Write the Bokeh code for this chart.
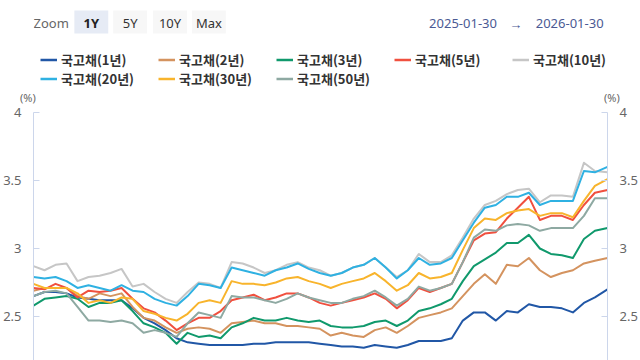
import pandas as pd
from datetime import datetime
from bokeh.plotting import figure
from bokeh.layouts import column
from bokeh.models import (Range1d, LinearAxis, FixedTicker, Legend, LegendItem, Label,
                          BoxAnnotation, CustomJSTickFormatter, Div)
from bokeh.embed import file_html
from bokeh.resources import INLINE

# weekly observations, 2025-01-30 .. 2026-01-30
dates = list(pd.date_range("2025-01-30", periods=52, freq="7D")) + [pd.Timestamp("2026-01-30")]

y1 = [2.65, 2.68, 2.68, 2.67, 2.64, 2.63, 2.62, 2.62, 2.62, 2.56, 2.49, 2.45, 2.40, 2.34, 2.31, 2.30, 2.29, 2.29,
      2.29, 2.29, 2.30, 2.30, 2.31, 2.31, 2.31, 2.31, 2.30, 2.29, 2.28, 2.28, 2.27, 2.29, 2.28, 2.27, 2.29,
      2.32, 2.32, 2.32, 2.34, 2.47, 2.53, 2.53, 2.47, 2.54, 2.53, 2.59, 2.57, 2.57, 2.56, 2.53, 2.60, 2.64, 2.70]
y2 = [2.69, 2.71, 2.71, 2.71, 2.65, 2.63, 2.67, 2.65, 2.67, 2.57, 2.49, 2.47, 2.42, 2.38, 2.41, 2.42, 2.41, 2.38,
      2.45, 2.46, 2.47, 2.45, 2.45, 2.43, 2.43, 2.42, 2.41, 2.36, 2.38, 2.36, 2.35, 2.40, 2.42, 2.38, 2.43,
      2.49, 2.51, 2.53, 2.56, 2.65, 2.74, 2.81, 2.74, 2.88, 2.87, 2.93, 2.84, 2.79, 2.82, 2.84, 2.89, 2.91, 2.93]
y3 = [2.58, 2.63, 2.64, 2.65, 2.63, 2.57, 2.60, 2.60, 2.62, 2.54, 2.45, 2.42, 2.38, 2.30, 2.38, 2.35, 2.36, 2.34,
      2.42, 2.45, 2.49, 2.47, 2.47, 2.49, 2.47, 2.46, 2.47, 2.43, 2.42, 2.42, 2.43, 2.46, 2.47, 2.43, 2.47,
      2.54, 2.56, 2.59, 2.63, 2.76, 2.87, 2.92, 2.97, 3.04, 3.04, 3.10, 3.00, 2.96, 2.95, 2.93, 3.07, 3.13, 3.15]
y5 = [2.71, 2.70, 2.74, 2.71, 2.64, 2.69, 2.68, 2.69, 2.71, 2.63, 2.56, 2.53, 2.47, 2.40, 2.45, 2.49, 2.49, 2.54,
      2.62, 2.64, 2.66, 2.62, 2.64, 2.67, 2.67, 2.64, 2.60, 2.58, 2.60, 2.62, 2.64, 2.67, 2.63, 2.56, 2.62,
      2.71, 2.68, 2.71, 2.74, 2.90, 3.06, 3.11, 3.12, 3.22, 3.30, 3.38, 3.21, 3.24, 3.24, 3.21, 3.32, 3.41, 3.43]
y10 = [2.87, 2.84, 2.88, 2.89, 2.76, 2.79, 2.80, 2.82, 2.85, 2.72, 2.74, 2.68, 2.63, 2.60, 2.68, 2.75, 2.74, 2.71,
       2.90, 2.89, 2.86, 2.82, 2.84, 2.88, 2.90, 2.86, 2.84, 2.80, 2.82, 2.86, 2.88, 2.93, 2.86, 2.79, 2.84,
       2.96, 2.90, 2.90, 2.95, 3.08, 3.22, 3.32, 3.35, 3.40, 3.43, 3.44, 3.34, 3.39, 3.39, 3.38, 3.63, 3.57, 3.56]
y20 = [2.79, 2.78, 2.79, 2.76, 2.71, 2.73, 2.71, 2.69, 2.73, 2.69, 2.68, 2.63, 2.60, 2.58, 2.65, 2.74, 2.73, 2.71,
       2.86, 2.84, 2.82, 2.80, 2.84, 2.86, 2.89, 2.85, 2.82, 2.80, 2.82, 2.86, 2.88, 2.93, 2.86, 2.78, 2.84,
       2.93, 2.88, 2.89, 2.93, 3.06, 3.19, 3.30, 3.32, 3.38, 3.38, 3.41, 3.32, 3.35, 3.35, 3.35, 3.57, 3.56, 3.60]
y30 = [2.74, 2.71, 2.71, 2.71, 2.67, 2.60, 2.62, 2.60, 2.64, 2.63, 2.54, 2.52, 2.49, 2.47, 2.52, 2.60, 2.62, 2.60,
       2.76, 2.74, 2.74, 2.73, 2.75, 2.78, 2.79, 2.76, 2.74, 2.71, 2.74, 2.76, 2.78, 2.82, 2.76, 2.69, 2.73,
       2.82, 2.78, 2.79, 2.82, 2.99, 3.15, 3.22, 3.21, 3.26, 3.28, 3.29, 3.24, 3.26, 3.26, 3.23, 3.35, 3.46, 3.51]
y50 = [2.65, 2.68, 2.69, 2.67, 2.57, 2.47, 2.47, 2.46, 2.47, 2.45, 2.38, 2.40, 2.38, 2.35, 2.45, 2.53, 2.51, 2.49,
       2.65, 2.64, 2.64, 2.62, 2.60, 2.63, 2.67, 2.64, 2.62, 2.60, 2.60, 2.63, 2.65, 2.69, 2.64, 2.58, 2.63,
       2.72, 2.69, 2.71, 2.74, 2.90, 3.08, 3.14, 3.13, 3.17, 3.18, 3.17, 3.13, 3.15, 3.15, 3.15, 3.24, 3.37, 3.37]

names = ["국고채(1년)", "국고채(2년)", "국고채(3년)", "국고채(5년)", "국고채(10년)",
         "국고채(20년)", "국고채(30년)", "국고채(50년)"]
series = [y1, y2, y3, y5, y10, y20, y30, y50]
colors = ["#2157a6", "#d4935f", "#10996c", "#f0503f", "#c6c6c6", "#2fb1e2", "#f8b42c", "#8ea9a2"]

y_ticks = [2.5, 3, 3.5, 4]
unit_text = "(%)"
zoom_buttons = ["1Y", "5Y", "10Y", "Max"]
date_from, date_to = "2025-01-30", "2026-01-30"

FONT = "Noto Sans"
KFONT = "Noto Sans CJK KR"
W = 640
HEAD_H = 90
UNIT_H = 14
FL, FR = 32, 608   # frame edges (shared by the stacked figures)

# ---------------- header (zoom buttons, date range, legend) ----------------
head = figure(width=W, height=HEAD_H, output_backend="svg", toolbar_location=None,
              x_axis_location=None, y_axis_location=None,
              x_range=Range1d(FL, FR), y_range=Range1d(0, HEAD_H),
              min_border_left=FL, min_border_right=W - FR, min_border_top=0, min_border_bottom=0)
head.outline_line_color = None
head.grid.grid_line_color = None


def hy(page_y):
    return HEAD_H - page_y


head.add_layout(Label(x=32, y=hy(22), text="Zoom", text_baseline="middle", text_font=FONT,
                      text_font_size="13px", text_color="#666666"))
box_lefts = [73, 112, 152, 191]
for i, (lab, bl) in enumerate(zip(zoom_buttons, box_lefts)):
    head.add_layout(BoxAnnotation(left=bl, right=bl + 34, bottom=hy(33), top=hy(10),
                                  fill_color="#e6ebf5" if i == 0 else "#f7f7f7", fill_alpha=1,
                                  line_color=None))
    head.add_layout(Label(x=bl + 17, y=hy(22), text=lab, text_align="center",
                          text_baseline="middle", text_font=FONT, text_font_size="13px",
                          text_font_style="bold" if i == 0 else "normal",
                          text_color="#222222" if i == 0 else "#333333"))

for txt, cx in [(date_from, 463), ("→", 516), (date_to, 570)]:
    head.add_layout(Label(x=cx, y=hy(23), text=txt, text_align="center", text_baseline="middle",
                          text_font=FONT, text_font_size="13px", text_color="#4b5a94"))

# legend swatches (off-screen stand-ins that carry each series' colour)
legend_renderers = [head.line(x=[FL, FL + 1], y=[-100, -100], line_color=c, line_width=2.5)
                    for c in colors]
legend = Legend(items=[LegendItem(label=n, renderers=[r]) for n, r in zip(names, legend_renderers)],
                ncols=5, orientation="horizontal", location=(39 - FL, hy(88)),
                glyph_width=17, glyph_height=15, label_height=15, label_width=97,
                label_standoff=4, spacing=0, padding=0, margin=0,
                border_line_color=None, background_fill_alpha=0,
                label_text_font=KFONT, label_text_font_size="13px", label_text_line_height=1.0,
                label_text_font_style="bold", label_text_color="#333333")
head.add_layout(legend)

# ---------------- unit row ----------------
unit_div = Div(width=W, height=UNIT_H, margin=0, text=(
    f'<div style="position:relative;width:{W}px;height:{UNIT_H}px;'
    f'font-family:\'{FONT}\';font-size:11px;color:#666666;line-height:{UNIT_H}px;">'
    f'<span style="position:absolute;left:20px;top:1px;">{unit_text}</span>'
    f'<span style="position:absolute;left:604px;top:1px;">{unit_text}</span></div>'))

# ---------------- main chart ----------------
TOP = 8
MAIN_H = 360 - HEAD_H - UNIT_H
FRAME_H = MAIN_H - TOP
p = figure(width=W, height=MAIN_H, output_backend="svg", toolbar_location=None,
           x_axis_type="datetime", x_axis_location=None,
           x_range=Range1d(datetime(2025, 1, 30), datetime(2026, 1, 30)),
           y_range=Range1d(4 - FRAME_H / 136, 4),
           min_border_left=FL, min_border_right=W - FR, min_border_top=TOP, min_border_bottom=0)
p.outline_line_color = None
p.grid.grid_line_color = None

for ys, c in zip(series, colors):
    p.line(dates, ys, line_color=c, line_width=2, line_join="round")

right = LinearAxis()
p.add_layout(right, "right")
fmt = CustomJSTickFormatter(code="return String(tick)")
for ax in [p.yaxis[0], right]:
    ax.ticker = FixedTicker(ticks=y_ticks)
    ax.formatter = fmt
    ax.axis_line_color = "#ccd6eb"
    ax.major_tick_line_color = "#ccd6eb"
    ax.major_tick_in = 6
    ax.major_tick_out = 0
    ax.minor_tick_line_color = None
    ax.major_label_text_color = "#666666"
    ax.major_label_text_font = FONT
    ax.major_label_text_font_size = "13px"
    ax.major_label_standoff = 12

layout = column(head, unit_div, p, spacing=0)
open("out.html", "w").write(file_html(layout, INLINE))
